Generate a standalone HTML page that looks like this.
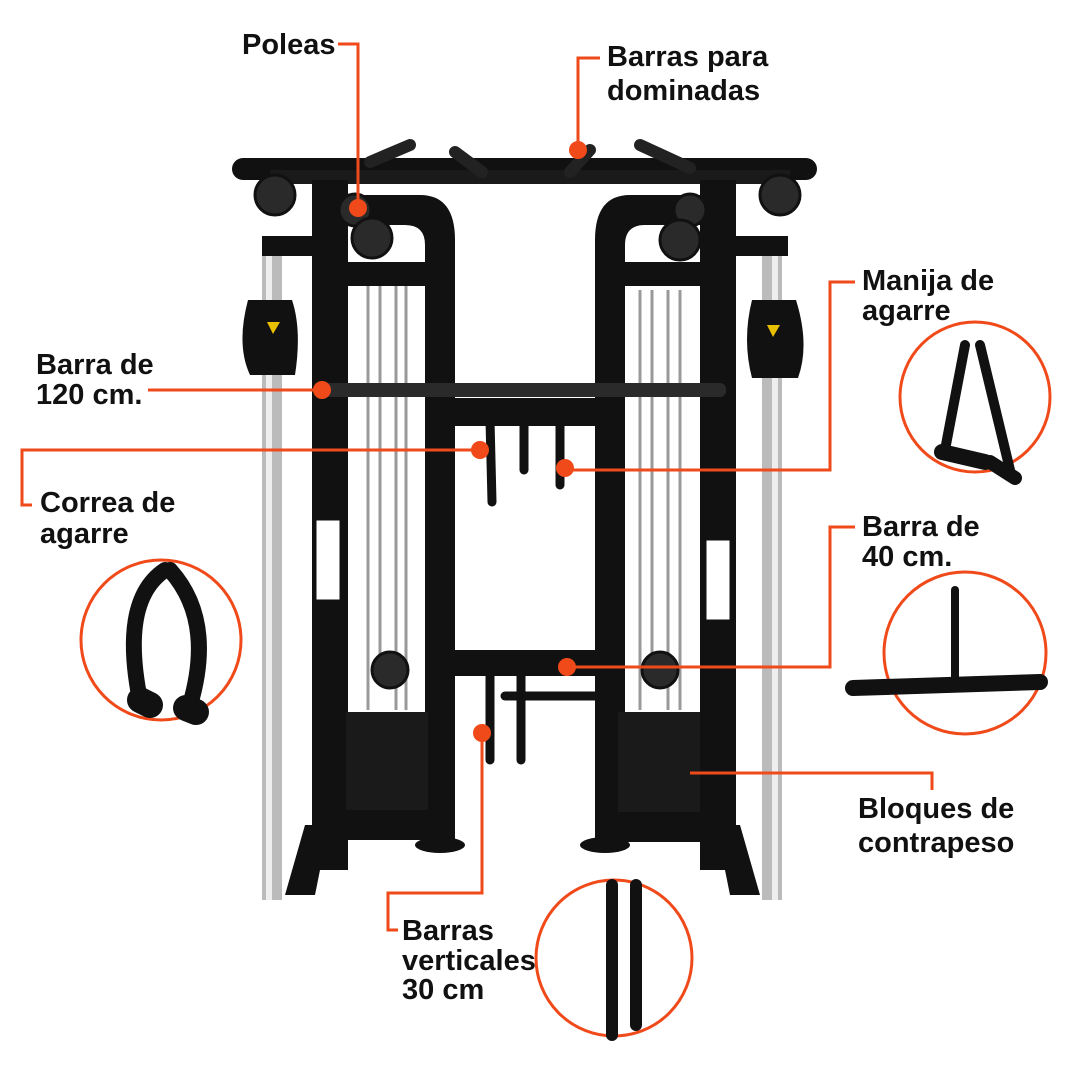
<!DOCTYPE html>
<html><head><meta charset="utf-8"><style>
html,body{margin:0;padding:0;background:#fff}
svg{display:block}
text{font-family:"Liberation Sans Narrow","Liberation Sans",sans-serif;font-weight:bold;font-size:29px;fill:#111}
</style></head><body>
<svg width="1090" height="1090" viewBox="0 0 1090 1090" xmlns="http://www.w3.org/2000/svg">
<!-- chrome side posts -->
<rect x="262" y="240" width="20" height="660" fill="#bbb"/>
<rect x="266" y="240" width="6" height="660" fill="#eee"/>
<rect x="762" y="240" width="20" height="660" fill="#bbb"/>
<rect x="772" y="240" width="6" height="660" fill="#eee"/>
<!-- cables -->
<g stroke="#999" stroke-width="3">
<line x1="368" y1="285" x2="368" y2="710"/><line x1="380" y1="285" x2="380" y2="660"/><line x1="396" y1="285" x2="396" y2="710"/><line x1="406" y1="285" x2="406" y2="710"/>
<line x1="640" y1="290" x2="640" y2="710"/><line x1="652" y1="290" x2="652" y2="660"/><line x1="668" y1="290" x2="668" y2="710"/><line x1="680" y1="290" x2="680" y2="710"/>
</g>
<!-- top bar -->
<rect x="232" y="158" width="585" height="22" rx="11" fill="#111"/>
<rect x="270" y="170" width="520" height="14" fill="#1a1a1a"/>
<g stroke="#222" stroke-width="12" stroke-linecap="round">
<line x1="370" y1="162" x2="410" y2="145"/><line x1="455" y1="152" x2="482" y2="172"/><line x1="570" y1="172" x2="590" y2="150"/><line x1="640" y1="145" x2="690" y2="168"/>
</g>
<!-- main uprights -->
<rect x="312" y="180" width="36" height="690" fill="#111"/>
<rect x="700" y="180" width="36" height="690" fill="#111"/>
<!-- inner arches -->
<path d="M348 195 H420 Q455 195 455 240 V850 H425 V245 Q425 225 405 225 H348Z" fill="#111"/>
<path d="M700 195 H630 Q595 195 595 240 V850 H625 V245 Q625 225 645 225 H700Z" fill="#111"/>
<rect x="348" y="262" width="105" height="24" fill="#111"/>
<rect x="597" y="262" width="105" height="24" fill="#111"/>
<!-- pulleys -->
<g fill="#2a2a2a" stroke="#111" stroke-width="3">
<circle cx="275" cy="195" r="20"/><circle cx="780" cy="195" r="20"/>
<circle cx="355" cy="210" r="16"/><circle cx="372" cy="238" r="20"/><circle cx="690" cy="210" r="16"/><circle cx="680" cy="240" r="20"/>
<circle cx="390" cy="670" r="18"/><circle cx="660" cy="670" r="18"/>
</g>
<rect x="262" y="236" width="66" height="20" fill="#111"/>
<rect x="722" y="236" width="66" height="20" fill="#111"/>
<!-- swivel pulleys -->
<path d="M248 300 H292 Q302 330 295 375 H250 Q236 345 248 300Z" fill="#111"/>
<path d="M752 300 H796 Q810 345 798 378 H752 Q742 340 752 300Z" fill="#111"/>
<polygon points="267,322 280,322 273,334" fill="#e8c000"/><polygon points="767,325 780,325 773,337" fill="#e8c000"/>
<!-- 120 bar -->
<rect x="318" y="383" width="408" height="14" rx="6" fill="#2a2a2a"/>
<!-- center plates -->
<rect x="450" y="398" width="148" height="28" fill="#111"/>
<rect x="450" y="650" width="148" height="26" fill="#111"/>
<!-- handles -->
<g stroke="#111" stroke-width="9" stroke-linecap="round">
<line x1="490" y1="420" x2="492" y2="502"/><line x1="524" y1="420" x2="524" y2="470"/><line x1="560" y1="420" x2="560" y2="485"/>
<line x1="490" y1="672" x2="490" y2="760"/><line x1="521" y1="672" x2="521" y2="760"/>
<line x1="505" y1="696" x2="612" y2="696"/>
</g>
<!-- weight stacks -->
<rect x="346" y="712" width="82" height="112" fill="#1a1a1a"/>
<rect x="618" y="712" width="82" height="115" fill="#1a1a1a"/>
<rect x="346" y="810" width="100" height="30" fill="#111"/>
<rect x="595" y="812" width="110" height="30" fill="#111"/>
<!-- feet -->
<path d="M285 895 L305 825 H345 V870 H320 L315 895Z" fill="#111"/>
<path d="M760 895 L740 825 H700 V870 H725 L730 895Z" fill="#111"/>
<ellipse cx="440" cy="845" rx="25" ry="8" fill="#111"/>
<ellipse cx="605" cy="845" rx="25" ry="8" fill="#111"/>
<!-- labels placards -->
<rect x="316" y="520" width="24" height="80" fill="#fff" stroke="#111"/>
<rect x="706" y="540" width="24" height="80" fill="#fff" stroke="#111"/>

<!-- circles -->
<g fill="#fff" stroke="#f04a1a" stroke-width="3">
<circle cx="975" cy="397" r="75"/><circle cx="161" cy="640" r="80"/><circle cx="965" cy="653" r="81"/><circle cx="614" cy="958" r="78"/>
</g>
<!-- circle contents -->
<g stroke="#111" stroke-linecap="round">
<path d="M965 345 L945 450 M980 345 L1010 470" stroke-width="10" fill="none"/>
<line x1="942" y1="452" x2="985" y2="462" stroke-width="16"/>
<line x1="990" y1="462" x2="1015" y2="478" stroke-width="14"/>
<path d="M165 570 Q120 600 140 700 M170 570 Q215 620 190 705" stroke-width="16" fill="none"/>
<line x1="853" y1="688" x2="1040" y2="682" stroke-width="16"/>
<line x1="955" y1="590" x2="955" y2="680" stroke-width="8"/>
<line x1="612" y1="885" x2="612" y2="1035" stroke-width="12"/>
<line x1="636" y1="885" x2="636" y2="1025" stroke-width="12"/>
<line x1="140" y1="700" x2="150" y2="705" stroke-width="26"/><line x1="186" y1="708" x2="196" y2="712" stroke-width="26"/>
</g>

<!-- connectors -->
<g stroke="#f04a1a" stroke-width="3" fill="none">
<polyline points="338,44 358,44 358,208"/>
<polyline points="600,58 578,58 578,150"/>
<polyline points="855,282 830,282 830,470 565,470"/>
<polyline points="148,390 322,390"/>
<polyline points="32,505 22,505 22,450 480,450"/>
<polyline points="855,527 830,527 830,667 567,667"/>
<polyline points="690,773 932,773 932,790"/>
<polyline points="482,733 482,893 388,893 388,930 398,930"/>
</g>
<g fill="#f04a1a">
<circle cx="358" cy="208" r="9"/><circle cx="578" cy="150" r="9"/><circle cx="565" cy="468" r="9"/><circle cx="322" cy="390" r="9"/><circle cx="480" cy="450" r="9"/><circle cx="567" cy="667" r="9"/><circle cx="482" cy="733" r="9"/>
</g>

<!-- labels -->
<text x="242" y="54">Poleas</text>
<text x="607" y="66">Barras para</text><text x="607" y="100">dominadas</text>
<text x="862" y="290">Manija de</text><text x="862" y="320">agarre</text>
<text x="36" y="374">Barra de</text><text x="36" y="404">120 cm.</text>
<text x="40" y="512">Correa de</text><text x="40" y="543">agarre</text>
<text x="862" y="536">Barra de</text><text x="862" y="566">40 cm.</text>
<text x="858" y="818">Bloques de</text><text x="858" y="852">contrapeso</text>
<text x="402" y="940">Barras</text><text x="402" y="970">verticales</text><text x="402" y="999">30 cm</text>
</svg>
</body></html>
